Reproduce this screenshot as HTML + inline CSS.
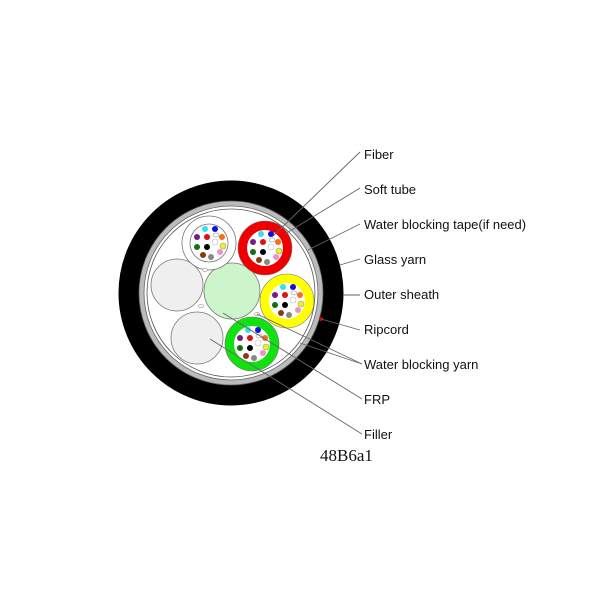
<!DOCTYPE html>
<html><head><style>body{margin:0;background:#fff}svg{display:block}</style></head><body>
<svg width="600" height="600" viewBox="0 0 600 600" xmlns="http://www.w3.org/2000/svg">
<defs>
<g id="fib">
<circle cx="-4" cy="-14" r="3" fill="#33e0f0"/>
<circle cx="6" cy="-14" r="3" fill="#1010e0"/>
<ellipse cx="7" cy="-8" rx="3" ry="2" fill="#fff" stroke="#999" stroke-width="0.6"/>
<circle cx="-12" cy="-6" r="3" fill="#7a1a8a"/>
<circle cx="-2" cy="-6" r="3" fill="#e01010"/>
<circle cx="13" cy="-6" r="3" fill="#f07020"/>
<circle cx="6" cy="-1" r="3" fill="#fff" stroke="#bbb" stroke-width="0.6"/>
<circle cx="-2" cy="4" r="3" fill="#000"/>
<circle cx="14" cy="3" r="3" fill="#f0f020" stroke="#999" stroke-width="0.6"/>
<circle cx="-12" cy="4" r="3" fill="#107010"/>
<circle cx="11" cy="9" r="3" fill="#f090c0"/>
<circle cx="-6" cy="12" r="3" fill="#8a3a10"/>
<circle cx="2" cy="14" r="3" fill="#888"/>
</g>
</defs>
<circle cx="231" cy="293" r="102" fill="#fff" stroke="#000" stroke-width="21"/>
<circle cx="231" cy="293" r="89.5" fill="none" stroke="#bbb" stroke-width="5"/>
<circle cx="231" cy="293" r="92" fill="none" stroke="#666" stroke-width="0.8"/>
<circle cx="231" cy="293" r="87" fill="none" stroke="#666" stroke-width="0.8"/>
<circle cx="231" cy="293" r="84" fill="none" stroke="#555" stroke-width="0.8"/>
<circle cx="177" cy="285" r="26" fill="#efefef" stroke="#777" stroke-width="0.8"/>
<circle cx="197" cy="338" r="26" fill="#efefef" stroke="#777" stroke-width="0.8"/>
<circle cx="232" cy="291" r="28" fill="#ccf5cc" stroke="#777" stroke-width="0.8"/>
<circle cx="209" cy="243" r="27" fill="#fff" stroke="#777" stroke-width="0.8"/>
<circle cx="209" cy="243" r="19" fill="#fff" stroke="#777" stroke-width="0.8"/>
<use href="#fib" x="209" y="243"/>
<circle cx="265" cy="248" r="22.5" fill="#fff" stroke="#e00" stroke-width="9"/>
<circle cx="265" cy="248" r="27" fill="none" stroke="#777" stroke-width="0.6"/>
<use href="#fib" x="265" y="248"/>
<circle cx="287" cy="301" r="22.5" fill="#fff" stroke="#ff0" stroke-width="9"/>
<circle cx="287" cy="301" r="27" fill="none" stroke="#777" stroke-width="0.6"/>
<use href="#fib" x="287" y="301"/>
<circle cx="252" cy="344" r="22.5" fill="#fff" stroke="#11e011" stroke-width="9"/>
<circle cx="252" cy="344" r="27" fill="none" stroke="#777" stroke-width="0.6"/>
<use href="#fib" x="252" y="344"/>
<ellipse cx="205" cy="270" rx="2.5" ry="1.5" fill="#fff" stroke="#888" stroke-width="0.6"/>
<ellipse cx="201" cy="306" rx="2.5" ry="1.5" fill="#fff" stroke="#888" stroke-width="0.6"/>
<ellipse cx="257" cy="314" rx="2.5" ry="1.5" fill="#fff" stroke="#888" stroke-width="0.6"/>
<circle cx="321" cy="319" r="2" fill="#c00"/>
<g stroke="#666" stroke-width="0.9" fill="none">
<line x1="360" y1="152" x2="272" y2="237"/>
<line x1="360" y1="188" x2="285" y2="234"/>
<line x1="360" y1="224" x2="308" y2="250"/>
<line x1="360" y1="259" x2="340" y2="265"/>
<line x1="360" y1="295" x2="343" y2="295"/>
<line x1="360" y1="330" x2="321" y2="319"/>
<line x1="362" y1="364" x2="257" y2="314"/>
<line x1="362" y1="364" x2="300" y2="343"/>
<line x1="362" y1="399" x2="223" y2="313"/>
<line x1="362" y1="434" x2="210" y2="339"/>
</g>
<g font-family="Liberation Sans, sans-serif" font-size="13" fill="#111">
<text x="364" y="159">Fiber</text>
<text x="364" y="194">Soft tube</text>
<text x="364" y="229">Water blocking tape(if need)</text>
<text x="364" y="264">Glass yarn</text>
<text x="364" y="299">Outer sheath</text>
<text x="364" y="334">Ripcord</text>
<text x="364" y="369">Water blocking yarn</text>
<text x="364" y="404">FRP</text>
<text x="364" y="439">Filler</text>
</g>
<text x="320" y="461" font-family="Liberation Serif, serif" font-size="17" fill="#111">48B6a1</text>
</svg>
</body></html>
